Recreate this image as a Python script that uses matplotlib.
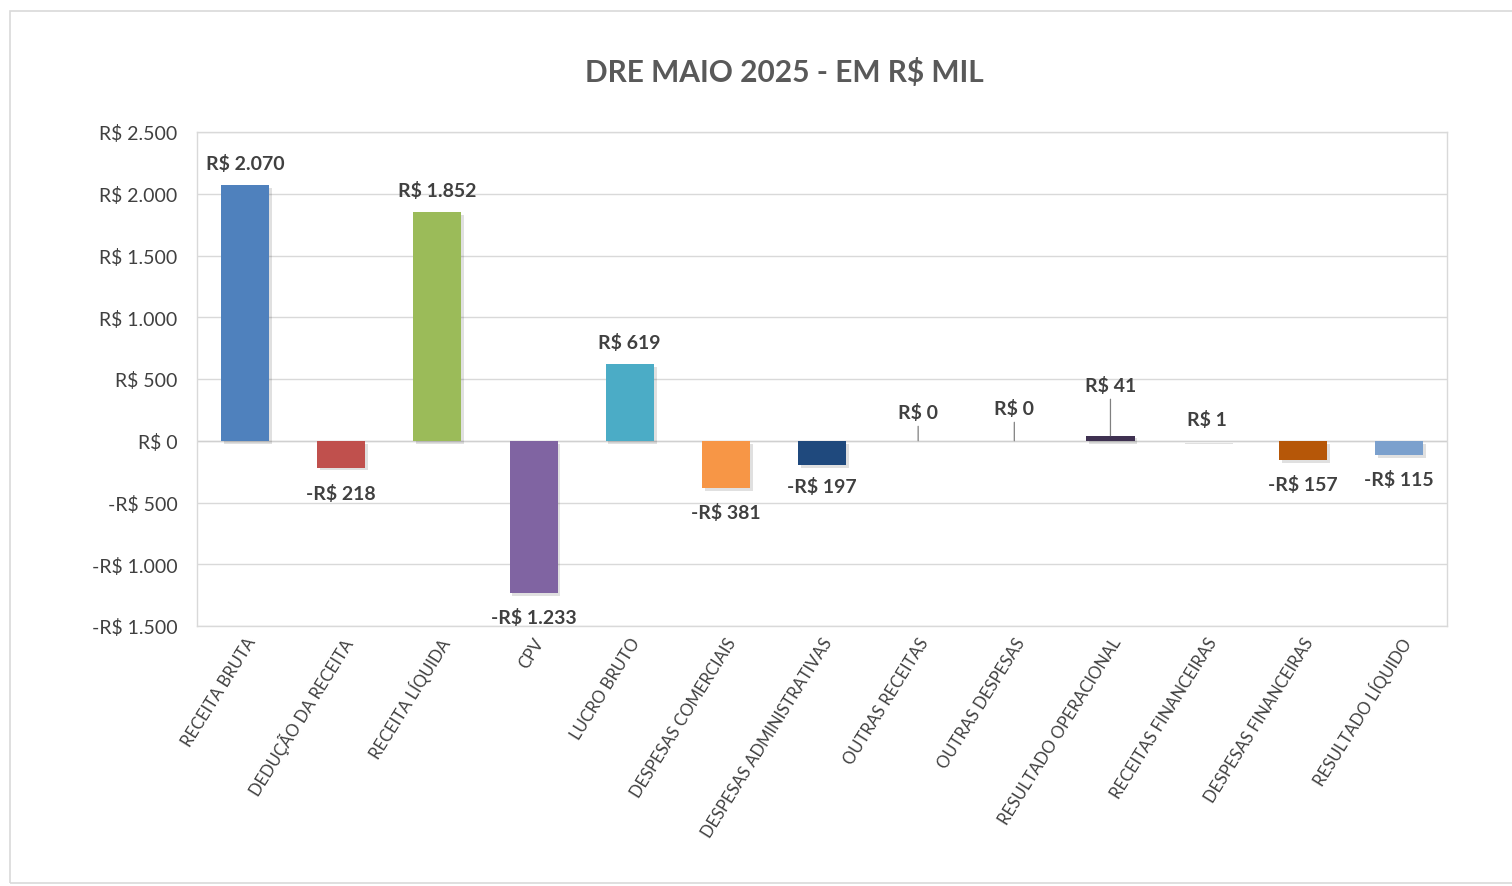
import matplotlib
matplotlib.use("Agg")
import matplotlib.pyplot as plt
import matplotlib.patheffects as pe
from matplotlib.patches import Rectangle

categories = ["RECEITA BRUTA", "DEDUÇÃO DA RECEITA", "RECEITA LÍQUIDA", "CPV", "LUCRO BRUTO",
              "DESPESAS COMERCIAIS", "DESPESAS ADMINISTRATIVAS", "OUTRAS RECEITAS", "OUTRAS DESPESAS",
              "RESULTADO OPERACIONAL", "RECEITAS FINANCEIRAS", "DESPESAS FINANCEIRAS", "RESULTADO LÍQUIDO"]
values = [2070, -218, 1852, -1233, 619, -381, -197, 0, 0, 41, 1, -157, -115]
colors = ["#4f81bd", "#c0504d", "#9bbb59", "#8064a2", "#4bacc6", "#f79646", "#1f497d",
          "#d9d9d9", "#d9d9d9", "#3f3151", "#d9d9d9", "#b65708", "#7ba0cd"]
yticks = [-1500, -1000, -500, 0, 500, 1000, 1500, 2000, 2500]
title = "DRE MAIO 2025 - EM R$ MIL"
# label offset in pixels (above for positives/zero, below for negatives)
label_offsets = [23, 26, 23, 25, 23, 25, 22, 28, 32, 50, 23, 25, 25]
leader = [False] * 7 + [True, True, True, False, False, False]


def fmt(v):
    s = f"{abs(v):,}".replace(",", ".")
    return ("-R$ " if v < 0 else "R$ ") + s


plt.rcParams['font.family'] = ['Lato', 'DejaVu Sans']

fig = plt.figure(figsize=(15.12, 8.87), dpi=100)
fig.patches.append(Rectangle((10 / 1512, 3 / 887), 1.0, 1 - 15 / 887, transform=fig.transFigure,
                             fill=False, edgecolor="#d9d9d9", linewidth=1.2))
ax = fig.add_axes([197 / 1512, 1 - 627 / 887, 1250 / 1512, 494 / 887])

x = list(range(len(categories)))
bars = ax.bar(x, values, width=0.5, color=colors, zorder=3)
for b in bars:
    b.set_path_effects([pe.SimplePatchShadow(offset=(2, -2), shadow_rgbFace="#000000", alpha=0.12),
                        pe.Normal()])

ax.set_ylim(-1500, 2500)
ax.set_xlim(-0.5, len(categories) - 0.5)
ax.set_yticks(yticks)
ax.set_yticklabels([fmt(v) for v in yticks], fontsize=14, color="#404040")
ax.yaxis.grid(True, color="#d9d9d9", linewidth=1, zorder=0)
ax.tick_params(axis="both", length=0)
ax.tick_params(axis="y", pad=14)
for s in ax.spines.values():
    s.set_color("#d9d9d9")
    s.set_linewidth(1)
ax.axhline(0, color="#d0d0d0", linewidth=1, zorder=2)

ax.set_xticks(x)
ax.set_xticklabels(categories, rotation=58, ha="right", rotation_mode="anchor",
                   fontsize=12, color="#404040")
ax.tick_params(axis="x", pad=6)
for lab in ax.get_xticklabels():
    lab.set_transform(lab.get_transform() + matplotlib.transforms.ScaledTranslation(0.0, 0, fig.dpi_scale_trans))

for i, (v, off) in enumerate(zip(values, label_offsets)):
    sign = -1 if v < 0 else 1
    va = "top" if v < 0 else "bottom"
    if leader[i]:
        ax.annotate(fmt(v), xy=(i, v), xytext=(0, off - 8), textcoords="offset pixels",
                    ha="center", va="bottom", fontsize=14, fontweight="bold", color="#404040",
                    arrowprops=dict(arrowstyle="-", color="#808080", lw=0.9, shrinkA=2, shrinkB=0),
                    zorder=5)
    else:
        ax.annotate(fmt(v), xy=(i, v), xytext=(0, sign * (off - 10)), textcoords="offset pixels",
                    ha="center", va=va, fontsize=14, fontweight="bold", color="#404040", zorder=5)

fig.text(784 / 1512, 1 - 72 / 887, title, ha="center", va="center", fontsize=21.5,
         fontweight="bold", color="#595959")

fig.savefig("out.png", dpi=100)
